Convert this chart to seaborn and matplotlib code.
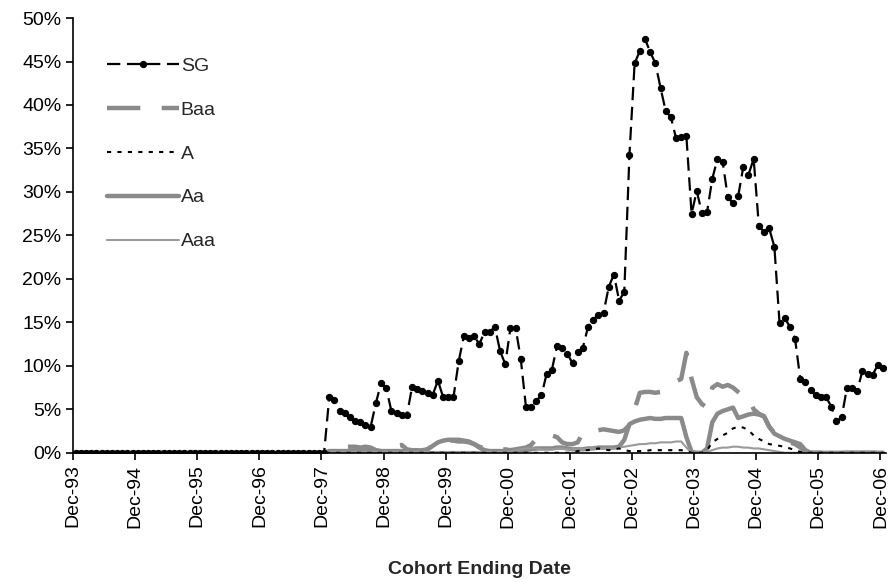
import matplotlib
matplotlib.use("Agg")
import matplotlib.pyplot as plt
import matplotlib.ticker as mticker
import seaborn as sns
import pandas as pd

# monthly cohorts, Dec-93 .. Dec-06
months = pd.date_range("1993-12-01", "2006-12-01", freq="MS")

# values in %, zero before Jan-98
sg = [0.0] * 49 + [
    6.4, 6.1, 4.8, 4.6, 4.1, 3.7, 3.5, 3.2, 3.0, 5.7, 8.0, 7.5,
    4.8, 4.6, 4.4, 4.3, 7.6, 7.3, 7.1, 6.9, 6.7, 8.3, 6.4, 6.4,
    6.4, 10.5, 13.4, 13.2, 13.4, 12.5, 13.9, 13.9, 14.5, 11.7, 10.2, 14.3,
    14.4, 10.8, 5.3, 5.3, 6.0, 6.6, 9.1, 9.5, 12.3, 12.1, 11.4, 10.3,
    11.6, 12.1, 14.5, 15.3, 15.9, 16.1, 19.1, 20.5, 17.5, 18.5, 34.3, 44.8,
    46.2, 47.6, 46.1, 44.8, 42.0, 39.3, 38.6, 36.2, 36.3, 36.4, 27.5, 30.1,
    27.6, 27.7, 31.5, 33.8, 33.5, 29.4, 28.7, 29.5, 32.9, 32.0, 33.8, 26.1,
    25.4, 25.8, 23.7, 14.9, 15.5, 14.5, 13.1, 8.5, 8.1, 7.2, 6.6, 6.4,
    6.4, 5.3, 3.6, 4.1, 7.4, 7.4, 7.1, 9.4, 9.1, 9.0, 10.1, 9.8,
]
baa = [0.0] * 49 + [
    0.3, 0.4, 0.6, 0.7, 0.7, 0.7, 0.6, 0.7, 0.6, 0.3, 0.2, 0.2,
    0.3, 0.8, 0.9, 0.4, 0.3, 0.3, 0.2, 0.4, 0.9, 1.2, 1.3, 1.4,
    1.4, 1.3, 1.3, 1.2, 1.0, 0.7, 0.5, 0.4, 0.4, 0.3, 0.4, 0.3,
    0.4, 0.5, 0.6, 0.9, 1.6, 2.0, 2.1, 2.0, 1.8, 1.2, 1.0, 1.0,
    1.2, 2.3, 2.5, 2.4, 2.6, 2.7, 2.6, 2.5, 2.4, 2.6, 3.2, 5.0,
    6.9, 7.0, 7.0, 6.9, 7.0, 7.5, 7.9, 8.2, 8.5, 11.5, 8.5, 6.4,
    5.6, 5.2, 7.5, 7.9, 7.6, 7.8, 7.5, 7.0, 6.5, 6.4, 5.0, 4.5,
    4.2, 3.0, 2.3, 1.8, 1.5, 1.2, 1.0, 0.6, 0.2, 0.0, 0.0, 0.0,
    0.0, 0.0, 0.0, 0.0, 0.0, 0.0, 0.0, 0.0, 0.0, 0.0, 0.0, 0.0,
]
a = [0.0] * 49 + [
    0.0, 0.0, 0.0, 0.0, 0.0, 0.0, 0.0, 0.0, 0.0, 0.0, 0.0, 0.0,
    0.0, 0.0, 0.0, 0.0, 0.0, 0.0, 0.0, 0.0, 0.0, 0.0, 0.0, 0.0,
    0.0, 0.0, 0.0, 0.0, 0.0, 0.0, 0.0, 0.0, 0.0, 0.0, 0.0, 0.0,
    0.0, 0.0, 0.0, 0.0, 0.0, 0.0, 0.0, 0.0, 0.0, 0.0, 0.0, 0.0,
    0.2, 0.3, 0.3, 0.4, 0.5, 0.4, 0.3, 0.4, 0.5, 0.3, 0.2, 0.2,
    0.2, 0.2, 0.3, 0.3, 0.3, 0.3, 0.3, 0.3, 0.3, 0.2, 0.0, 0.0,
    0.0, 0.3, 1.2, 1.6, 2.0, 2.3, 2.8, 3.0, 2.9, 2.6, 2.0, 1.6,
    1.3, 1.0, 0.9, 0.8, 0.7, 0.5, 0.3, 0.1, 0.0, 0.0, 0.0, 0.0,
    0.0, 0.0, 0.0, 0.0, 0.0, 0.0, 0.0, 0.0, 0.0, 0.0, 0.0, 0.0,
]
aa = [0.0] * 49 + [
    0.2, 0.2, 0.2, 0.2, 0.2, 0.2, 0.2, 0.2, 0.2, 0.2, 0.2, 0.2,
    0.2, 0.2, 0.2, 0.2, 0.2, 0.2, 0.3, 0.4, 0.8, 1.2, 1.4, 1.5,
    1.5, 1.5, 1.4, 1.3, 1.0, 0.6, 0.3, 0.2, 0.2, 0.2, 0.2, 0.3,
    0.3, 0.3, 0.3, 0.4, 0.5, 0.5, 0.5, 0.5, 0.6, 0.6, 0.5, 0.4,
    0.4, 0.4, 0.5, 0.5, 0.6, 0.6, 0.6, 0.6, 0.7, 1.5, 3.3, 3.6,
    3.8, 3.9, 4.0, 3.9, 3.9, 4.0, 4.0, 4.0, 4.0, 1.8, 0.1, 0.0,
    0.0, 0.5, 3.5, 4.5, 4.8, 5.0, 5.2, 4.0, 4.2, 4.4, 4.5, 4.4,
    4.2, 3.0, 2.2, 1.9, 1.6, 1.4, 1.2, 1.0, 0.3, 0.0, 0.0, 0.0,
    0.0, 0.0, 0.0, 0.0, 0.0, 0.0, 0.0, 0.0, 0.0, 0.0, 0.0, 0.0,
]
aaa = [0.0] * 49 + [
    0.1, 0.1, 0.1, 0.1, 0.1, 0.1, 0.1, 0.1, 0.1, 0.1, 0.1, 0.1,
    0.1, 0.1, 0.1, 0.1, 0.1, 0.1, 0.1, 0.1, 0.1, 0.1, 0.1, 0.1,
    0.1, 0.1, 0.1, 0.1, 0.1, 0.1, 0.1, 0.1, 0.1, 0.1, 0.1, 0.1,
    0.3, 0.4, 0.5, 0.5, 0.5, 0.4, 0.4, 0.4, 0.5, 0.5, 0.4, 0.4,
    0.4, 0.4, 0.5, 0.5, 0.5, 0.5, 0.5, 0.5, 0.6, 0.7, 0.8, 0.9,
    1.0, 1.0, 1.1, 1.1, 1.2, 1.2, 1.2, 1.3, 1.3, 0.6, 0.0, 0.0,
    0.0, 0.1, 0.3, 0.5, 0.6, 0.6, 0.7, 0.7, 0.6, 0.6, 0.5, 0.5,
    0.4, 0.3, 0.2, 0.1, 0.0, 0.0, 0.0, 0.0, 0.0, 0.0, 0.0, 0.0,
    0.0, 0.0, 0.0, 0.0, 0.0, 0.0, 0.0, 0.0, 0.0, 0.0, 0.0, 0.0,
]

df = pd.DataFrame({"m": range(len(months)), "SG": sg, "Baa": baa,
                   "A": a, "Aa": aa, "Aaa": aaa})

sns.set_style("ticks")
plt.rcParams["font.family"] = ["Liberation Sans Narrow", "Liberation Sans", "DejaVu Sans"]

fig = plt.figure(figsize=(8.91, 5.82), dpi=100)
ax = fig.add_axes([0.082, 0.222, 0.912, 0.747])

gray = "#8a8a8a"
sns.lineplot(data=df, x="m", y="Baa", ax=ax, color=gray, lw=3.2,
             ls=(0, (7.5, 4.8)), label="Baa", zorder=2)
sns.lineplot(data=df, x="m", y="A", ax=ax, color="black", lw=1.5,
             ls=(0, (2, 3)), label="A", zorder=3)
sns.lineplot(data=df, x="m", y="Aa", ax=ax, color=gray, lw=3.2,
             ls="-", label="Aa", zorder=2)
sns.lineplot(data=df, x="m", y="Aaa", ax=ax, color="#9a9a9a", lw=1.5,
             ls="-", label="Aaa", zorder=2)
sns.lineplot(data=df, x="m", y="SG", ax=ax, color="black", lw=1.6,
             ls=(0, (6, 3)), marker="o", ms=4.5, mec="black",
             label="SG", zorder=4)

ax.set_xlim(-0.5, len(months) - 0.5)
ax.set_ylim(0, 50)
ax.yaxis.set_major_locator(mticker.MultipleLocator(5))
ax.yaxis.set_major_formatter(mticker.FuncFormatter(lambda v, p: f"{v:.0f}%"))

tick_pos = list(range(0, len(months), 12))
ax.set_xticks([p - 0.5 for p in tick_pos])
ax.set_xticklabels([months[p].strftime("%b-%y") for p in tick_pos], rotation=90)
ax.tick_params(axis="both", labelsize=14, direction="out", length=5,
               width=1.2, color="black", labelcolor="black")
for s in ["left", "bottom"]:
    ax.spines[s].set_color("black")
    ax.spines[s].set_linewidth(1.2)
sns.despine(ax=ax)

ax.set_xlabel("Cohort Ending Date", fontsize=14, fontweight="bold", labelpad=24)
ax.set_ylabel("")

handles, labels = ax.get_legend_handles_labels()
order = ["SG", "Baa", "A", "Aa", "Aaa"]
hmap = dict(zip(labels, handles))
ax.legend([hmap[k] for k in order], order, loc="upper left",
          bbox_to_anchor=(0.02, 0.95), frameon=False, fontsize=14,
          handlelength=3.7, handletextpad=0.1, labelspacing=1.35)

fig.savefig("out.png", dpi=100)
